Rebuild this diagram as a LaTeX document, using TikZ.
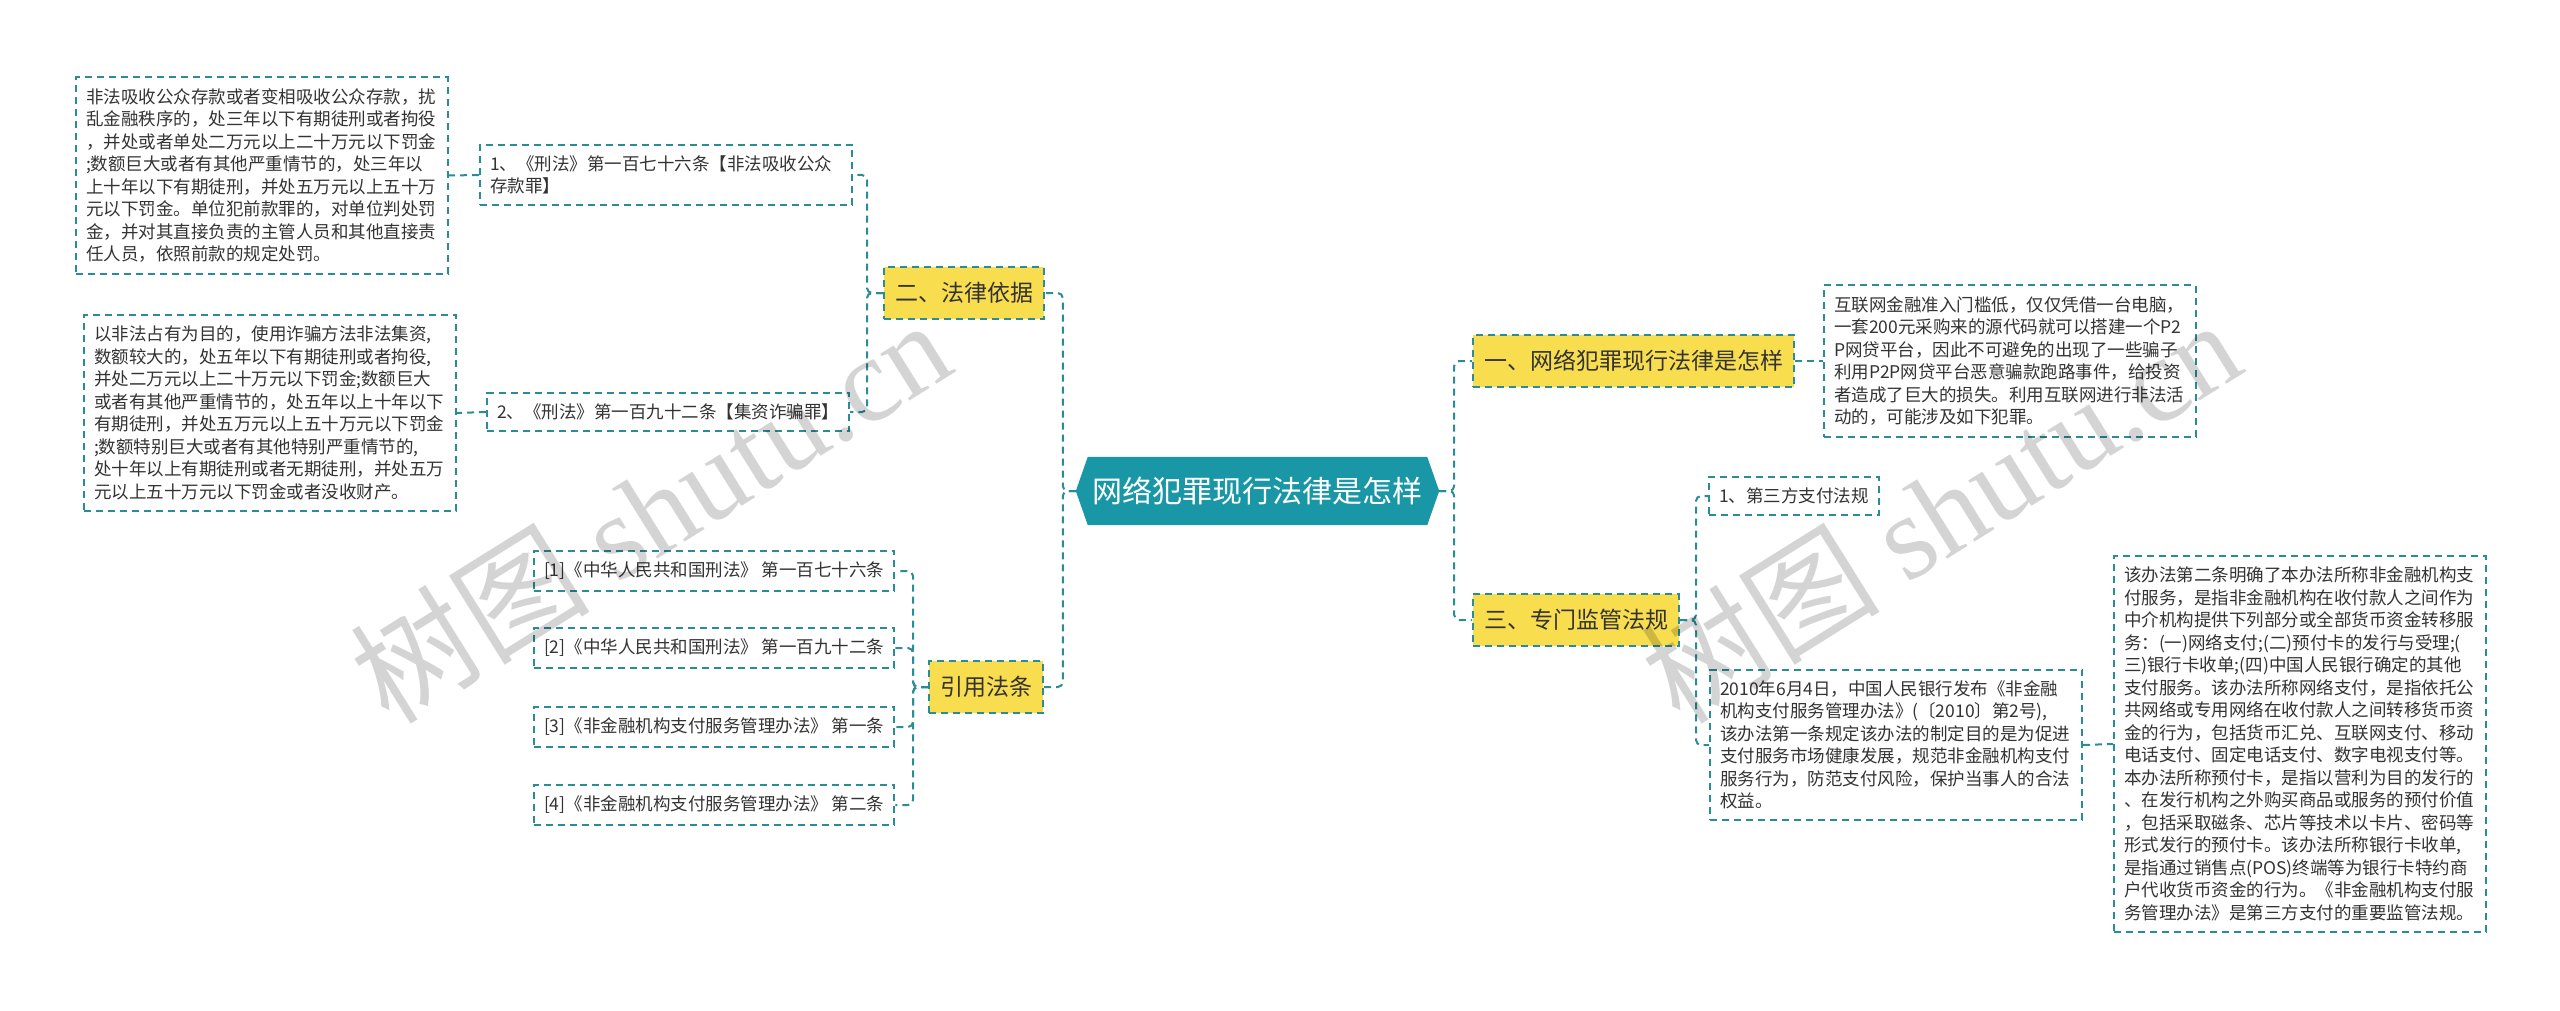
\documentclass[tikz,border=0pt]{standalone}
\usepackage{fontspec}
\setmainfont{Noto Sans CJK SC}
\newfontfamily\wmlatin{Liberation Serif}
\usetikzlibrary{calc,backgrounds}
\definecolor{linec}{HTML}{2A8C97}
\definecolor{centc}{HTML}{1A97A6}
\definecolor{yelc}{HTML}{F8DD4E}
\definecolor{txtc}{HTML}{333333}
\newcommand\fsS{\fontsize{17.5}{22.5}\selectfont}
\newcommand\fsM{\fontsize{23}{28}\selectfont}
\newcommand\fsL{\fontsize{30}{36}\selectfont}
\newcommand\fsW{\fontsize{120}{130}\selectfont}
\tikzset{
  dashln/.style={draw=linec, line width=2pt, dash pattern=on 7pt off 5pt},
  conn/.style={dashln, rounded corners=5pt},
  leaf/.style={dashln, fill=white, text=txtc, font=\fsS, inner xsep=10pt, inner ysep=11pt, anchor=west},
  para/.style={leaf, text width=352pt, align=left},
  topic/.style={dashln, fill=yelc, text=txtc, font=\fsM, inner xsep=11pt, inner ysep=15pt, anchor=west},
  centre/.style={text=white, font=\fsL, inner xsep=4.5pt, inner ysep=20pt},
  wmark/.style={text=black, opacity=0.17, font=\fsW, rotate=32},
}
\begin{document}
\begin{tikzpicture}[x=1pt,y=-1pt]
\useasboundingbox (0,0) rectangle (2560,1011);
% central
\node[centre] (c) at (1257.5,491) {网络犯罪现行法律是怎样};
\coordinate (cl) at ($(c.west)+(-12,0)$);
\coordinate (cr) at ($(c.east)+(12,0)$);
\begin{pgfonlayer}{background}
  \fill[white] (0,0) rectangle (2560,1011);
  \fill[centc] (cl) -- (c.north west) -- (c.north east) -- (cr) -- (c.south east) -- (c.south west) -- cycle;
\end{pgfonlayer}
% left topics
\node[topic] (l1) at (883,293) {二、法律依据};
\node[topic] (l2) at (928,687) {引用法条};
% left children
\node[para] (b1) at (479,175) {1、《刑法》第一百七十六条【非法吸收公众\\存款罪】};
\node[leaf] (b2) at (486,412) {2、《刑法》第一百九十二条【集资诈骗罪】};
\node[para] (t1) at (75,175.5) {非法吸收公众存款或者变相吸收公众存款，扰\\乱金融秩序的，处三年以下有期徒刑或者拘役\\，并处或者单处二万元以上二十万元以下罚金\\;数额巨大或者有其他严重情节的，处三年以\\上十年以下有期徒刑，并处五万元以上五十万\\元以下罚金。单位犯前款罪的，对单位判处罚\\金，并对其直接负责的主管人员和其他直接责\\任人员，依照前款的规定处罚。};
\node[para] (t2) at (83,413) {以非法占有为目的，使用诈骗方法非法集资,\\数额较大的，处五年以下有期徒刑或者拘役,\\并处二万元以上二十万元以下罚金;数额巨大\\或者有其他严重情节的，处五年以上十年以下\\有期徒刑，并处五万元以上五十万元以下罚金\\;数额特别巨大或者有其他特别严重情节的,\\处十年以上有期徒刑或者无期徒刑，并处五万\\元以上五十万元以下罚金或者没收财产。};
\node[leaf] (r1) at (533,571) {[1]《中华人民共和国刑法》 第一百七十六条};
\node[leaf] (r2) at (533,648) {[2]《中华人民共和国刑法》 第一百九十二条};
\node[leaf] (r3) at (533,727) {[3]《非金融机构支付服务管理办法》 第一条};
\node[leaf] (r4) at (533,805) {[4]《非金融机构支付服务管理办法》 第二条};
% right topics
\node[topic] (R1) at (1472,361) {一、网络犯罪现行法律是怎样};
\node[topic] (R3) at (1472,620) {三、专门监管法规};
% right children
\node[para] (g1) at (1823,361) {互联网金融准入门槛低，仅仅凭借一台电脑，\\一套200元采购来的源代码就可以搭建一个P2\\P网贷平台，因此不可避免的出现了一些骗子\\利用P2P网贷平台恶意骗款跑路事件，给投资\\者造成了巨大的损失。利用互联网进行非法活\\动的，可能涉及如下犯罪。};
\node[leaf] (s1) at (1708,496) {1、第三方支付法规};
\node[para] (s2) at (1709,745) {2010年6月4日，中国人民银行发布《非金融\\机构支付服务管理办法》(〔2010〕第2号),\\该办法第一条规定该办法的制定目的是为促进\\支付服务市场健康发展，规范非金融机构支付\\服务行为，防范支付风险，保护当事人的合法\\权益。};
\node[para] (s3) at (2113,744) {该办法第二条明确了本办法所称非金融机构支\\付服务，是指非金融机构在收付款人之间作为\\中介机构提供下列部分或全部货币资金转移服\\务：(一)网络支付;(二)预付卡的发行与受理;(\\三)银行卡收单;(四)中国人民银行确定的其他\\支付服务。该办法所称网络支付，是指依托公\\共网络或专用网络在收付款人之间转移货币资\\金的行为，包括货币汇兑、互联网支付、移动\\电话支付、固定电话支付、数字电视支付等。\\本办法所称预付卡，是指以营利为目的发行的\\、在发行机构之外购买商品或服务的预付价值\\，包括采取磁条、芯片等技术以卡片、密码等\\形式发行的预付卡。该办法所称银行卡收单,\\是指通过销售点(POS)终端等为银行卡特约商\\户代收货币资金的行为。《非金融机构支付服\\务管理办法》是第三方支付的重要监管法规。};
% connectors
\draw[conn] (cl) -- ++(-13,0) |- (l1.east);
\draw[conn] (cl) -- ++(-13,0) |- (l2.east);
\draw[conn] (cr) -- ++(15,0) |- (R1.west);
\draw[conn] (cr) -- ++(15,0) |- (R3.west);
\draw[conn] (l1.west) -- ++(-16,0) |- (b1.east);
\draw[conn] (l1.west) -- ++(-16,0) |- (b2.east);
\draw[conn] (b1.west) -- (t1.east);
\draw[conn] (b2.west) -- (t2.east);
\draw[conn] (l2.west) -- ++(-15,0) |- (r1.east);
\draw[conn] (l2.west) -- ++(-15,0) |- (r2.east);
\draw[conn] (l2.west) -- ++(-15,0) |- (r3.east);
\draw[conn] (l2.west) -- ++(-15,0) |- (r4.east);
\draw[conn] (R1.east) -- (g1.west);
\draw[conn] (R3.east) -- ++(16,0) |- (s1.west);
\draw[conn] (R3.east) -- ++(16,0) |- (s2.west);
\draw[conn] (s2.east) -- (s3.west);
% watermarks
\node[wmark] (wm1) at (650,510) {树图 {\wmlatin shutu.cn}};
\node[wmark] (wm2) at (1940,510) {树图 {\wmlatin shutu.cn}};
\end{tikzpicture}
\end{document}
